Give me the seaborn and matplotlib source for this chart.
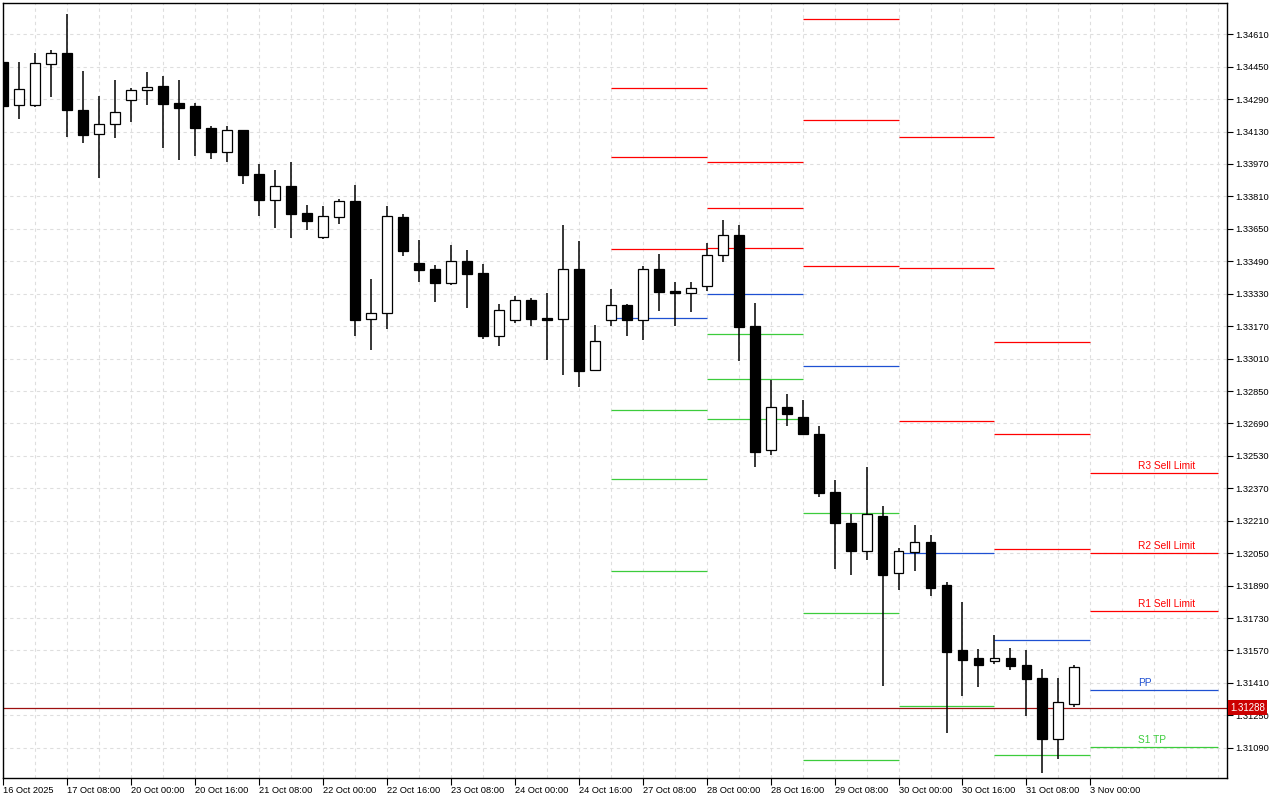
import numpy as np
import pandas as pd
import matplotlib
matplotlib.use("Agg")
import matplotlib.pyplot as plt
import seaborn as sns

# H4 bars, 16 Oct 2025 16:00 .. 31 Oct 2025 20:00
opens = [1.34472, 1.34260, 1.34260, 1.34462, 1.34516, 1.34235, 1.34117, 1.34166, 1.34284, 1.34334,
         1.34353, 1.34270, 1.34255, 1.34146, 1.34028, 1.34136, 1.33919, 1.33794, 1.33860, 1.33727,
         1.33608, 1.33707, 1.33786, 1.33204, 1.33233, 1.33707, 1.33480, 1.33450, 1.33384, 1.33490,
         1.33431, 1.33120, 1.33199, 1.33298, 1.33210, 1.33204, 1.33450, 1.32952, 1.33199, 1.33273,
         1.33199, 1.33450, 1.33343, 1.33332, 1.33367, 1.33520, 1.33618, 1.33169, 1.32557, 1.32770,
         1.32720, 1.32638, 1.32350, 1.32197, 1.32062, 1.32232, 1.31951, 1.32057, 1.32104, 1.31893,
         1.31572, 1.31531, 1.31516, 1.31531, 1.31497, 1.31432, 1.31134, 1.31307]
highs = [1.34483, 1.34472, 1.34518, 1.34533, 1.34710, 1.34429, 1.34304, 1.34385, 1.34344, 1.34424,
         1.34404, 1.34385, 1.34270, 1.34156, 1.34156, 1.34138, 1.33970, 1.33940, 1.33980, 1.33768,
         1.33763, 1.33797, 1.33866, 1.33403, 1.33763, 1.33723, 1.33595, 1.33472, 1.33570, 1.33546,
         1.33477, 1.33279, 1.33319, 1.33309, 1.33334, 1.33669, 1.33590, 1.33176, 1.33353, 1.33279,
         1.33467, 1.33526, 1.33388, 1.33388, 1.33580, 1.33694, 1.33669, 1.33283, 1.32906, 1.32835,
         1.32806, 1.32677, 1.32411, 1.32243, 1.32475, 1.32283, 1.32074, 1.32189, 1.32140, 1.31906,
         1.31809, 1.31577, 1.31646, 1.31581, 1.31572, 1.31477, 1.31434, 1.31498]
lows = [1.34246, 1.34194, 1.34250, 1.34301, 1.34105, 1.34075, 1.33902, 1.34100, 1.34179, 1.34263,
        1.34051, 1.33991, 1.34011, 1.33996, 1.33981, 1.33873, 1.33715, 1.33656, 1.33606, 1.33644,
        1.33601, 1.33676, 1.33123, 1.33054, 1.33157, 1.33518, 1.33389, 1.33291, 1.33375, 1.33261,
        1.33108, 1.33074, 1.33187, 1.33172, 1.33004, 1.32930, 1.32871, 1.32952, 1.33172, 1.33123,
        1.33103, 1.33246, 1.33172, 1.33241, 1.33345, 1.33485, 1.33000, 1.32474, 1.32536, 1.32679,
        1.32634, 1.32328, 1.31973, 1.31944, 1.32018, 1.31396, 1.31870, 1.31962, 1.31840, 1.31164,
        1.31347, 1.31391, 1.31502, 1.31475, 1.31248, 1.30967, 1.31036, 1.31291]
closes = [1.34258, 1.34339, 1.34467, 1.34516, 1.34235, 1.34115, 1.34166, 1.34225, 1.34334, 1.34349,
          1.34268, 1.34248, 1.34149, 1.34031, 1.34136, 1.33917, 1.33794, 1.33860, 1.33725, 1.33690,
          1.33712, 1.33786, 1.33202, 1.33233, 1.33712, 1.33542, 1.33449, 1.33384, 1.33490, 1.33429,
          1.33123, 1.33248, 1.33298, 1.33207, 1.33202, 1.33450, 1.32950, 1.33095, 1.33273, 1.33199,
          1.33450, 1.33340, 1.33332, 1.33357, 1.33520, 1.33618, 1.33167, 1.32551, 1.32770, 1.32738,
          1.32639, 1.32348, 1.32200, 1.32062, 1.32245, 1.31944, 1.32059, 1.32104, 1.31880, 1.31564,
          1.31524, 1.31500, 1.31531, 1.31495, 1.31431, 1.31134, 1.31314, 1.31487]

# daily pivot levels (nan = off chart)
pivot_days = ["2025-10-27", "2025-10-28", "2025-10-29", "2025-10-30", "2025-10-31", "2025-11-03"]
r3 = [1.34345, 1.33980, 1.34685, 1.34103, 1.33092, 1.32445]
r2 = [1.34005, 1.33751, 1.34187, 1.33457, 1.32638, 1.32051]
r1 = [1.33549, 1.33554, 1.33467, 1.32700, 1.32069, 1.31764]
pp = [1.33209, 1.33327, 1.32973, 1.32049, 1.31621, 1.31375]
s1 = [1.32755, 1.33130, 1.32247, 1.31294, 1.31054, 1.31093]
s2 = [1.32414, 1.32908, 1.31753, np.nan, np.nan, np.nan]
s3 = [1.31962, 1.32710, 1.31029, np.nan, np.nan, np.nan]

last_labels = ["R3 Sell Limit", "R2 Sell Limit", "R1 Sell Limit", "PP", "S1 TP"]
current_price = 1.31288

x_labels = ["16 Oct 2025", "17 Oct 08:00", "20 Oct 00:00", "20 Oct 16:00", "21 Oct 08:00",
            "22 Oct 00:00", "22 Oct 16:00", "23 Oct 08:00", "24 Oct 00:00", "24 Oct 16:00",
            "27 Oct 08:00", "28 Oct 00:00", "28 Oct 16:00", "29 Oct 08:00", "30 Oct 00:00",
            "30 Oct 16:00", "31 Oct 08:00", "3 Nov 00:00"]
y_ticks = [1.31090, 1.31250, 1.31410, 1.31570, 1.31730, 1.31890, 1.32050, 1.32210,
           1.32370, 1.32530, 1.32690, 1.32850, 1.33010, 1.33170, 1.33330, 1.33490,
           1.33650, 1.33810, 1.33970, 1.34130, 1.34290, 1.34450, 1.34610]

RED, BLUE, GREEN = "#ff0000", "#1e50d2", "#3ccc3c"


def bar_times(n):
    # forex H4 bars, no weekend
    t = pd.date_range("2025-10-16 16:00", periods=n * 2, freq="4h")
    return t[t.dayofweek < 5][:n]


def plot_candles(ax, df):
    up = df["close"] >= df["open"]
    ax.vlines(df.index, df["low"], df["high"], color="black", lw=1.1, zorder=3)
    body = (df["close"] - df["open"]).abs().clip(lower=0.000015)
    bottom = df[["open", "close"]].min(axis=1)
    ax.bar(df.index, body, bottom=bottom, width=0.62,
           color=np.where(up, "white", "black"), edgecolor="black", linewidth=0.9, zorder=4)


def plot_pivots(ax, times):
    days = times.normalize()
    levels = [(r3, RED), (r2, RED), (r1, RED), (pp, BLUE), (s1, GREEN), (s2, GREEN), (s3, GREEN)]
    for k, d in enumerate(pd.to_datetime(pivot_days)):
        start = int(np.argmax(days == d))
        end = start + (8 if k == len(pivot_days) - 1 else 6)
        for vals, col in levels:
            if not np.isnan(vals[k]):
                ax.hlines(vals[k], start, end, color=col, lw=0.9, zorder=2)
    # labels for the last day
    k = len(pivot_days) - 1
    start = int(np.argmax(days == pd.Timestamp(pivot_days[k])))
    for txt, vals, col in zip(last_labels, [r3, r2, r1, pp, s1], [RED, RED, RED, BLUE, GREEN]):
        ax.annotate(txt, xy=(start + 3, vals[k]), xytext=(0, 1.5), textcoords="offset points",
                    ha="left", va="bottom", color=col, fontsize=7.3, zorder=5)


def main():
    sns.set_theme(style="white")
    plt.rcParams["font.family"] = ["Liberation Sans", "DejaVu Sans"]

    times = bar_times(80)
    df = pd.DataFrame({"open": opens, "high": highs, "low": lows, "close": closes})

    fig = plt.figure(figsize=(12.8, 8), dpi=100)
    ax = fig.add_axes([3 / 1280, 22 / 800, 1224 / 1280, 775 / 800])

    plot_candles(ax, df)
    plot_pivots(ax, times)

    # current price line and tag
    ax.axhline(current_price, color="#9e1010", lw=0.9, zorder=2)
    ax.annotate(f"{current_price:.5f}", xy=(1, current_price), xycoords=("axes fraction", "data"),
                xytext=(2.2, 0), textcoords="offset points", ha="left", va="center",
                color="white", fontsize=7.0, zorder=10, annotation_clip=False,
                bbox=dict(boxstyle="square,pad=0.25", fc="#cc0000", ec="none"))

    ax.set_xlim(0.04, 76.54)
    ax.set_ylim(1.30941, 1.34764)

    ax.set_xticks(np.arange(len(x_labels)) * 4)
    ax.set_xticklabels(x_labels, ha="left")
    ax.set_xticks(np.arange(0, 78, 2), minor=True)
    ax.yaxis.tick_right()
    ax.set_yticks(y_ticks)
    ax.set_yticklabels([f"{v:.5f}" for v in y_ticks])

    ax.tick_params(axis="x", which="major", direction="out", length=5, width=0.8,
                   pad=1, labelsize=6.7, colors="black", bottom=True)
    ax.tick_params(axis="x", which="minor", length=0)
    ax.tick_params(axis="y", direction="out", length=4, width=0.8, pad=2,
                   labelsize=6.7, colors="black", right=True, left=False)

    ax.set_axisbelow(True)
    ax.grid(axis="y", which="major", color="#dedede", linestyle=(0, (3, 3)), lw=0.8)
    ax.grid(axis="x", which="both", color="#dedede", linestyle=(0, (3, 3)), lw=0.8)
    for sp in ax.spines.values():
        sp.set_color("black")
        sp.set_linewidth(1.0)

    fig.savefig("out.png", dpi=100, facecolor="white")


if __name__ == "__main__":
    main()
